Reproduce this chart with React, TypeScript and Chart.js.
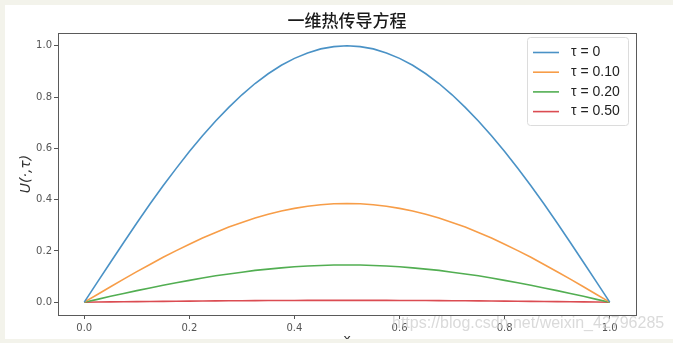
import React, { useEffect, useRef } from "react";
import { Chart, registerables } from "chart.js";

Chart.register(...registerables);

const xValues = [0, 0.025, 0.05, 0.075, 0.1, 0.125, 0.15, 0.175, 0.2, 0.225, 0.25, 0.275, 0.3, 0.325, 0.35, 0.375, 0.4, 0.425, 0.45, 0.475, 0.5, 0.525, 0.55, 0.575, 0.6, 0.625, 0.65, 0.675, 0.7, 0.725, 0.75, 0.775, 0.8, 0.825, 0.85, 0.875, 0.9, 0.925, 0.95, 0.975, 1.0];
const tau0 = [0, 0.078, 0.156, 0.233, 0.309, 0.383, 0.454, 0.522, 0.588, 0.649, 0.707, 0.760, 0.809, 0.853, 0.891, 0.924, 0.951, 0.972, 0.988, 0.997, 1.0, 0.997, 0.988, 0.972, 0.951, 0.924, 0.891, 0.853, 0.809, 0.760, 0.707, 0.649, 0.588, 0.522, 0.454, 0.383, 0.309, 0.233, 0.156, 0.078, 0];
const tau010 = [0, 0.030, 0.060, 0.090, 0.119, 0.147, 0.175, 0.201, 0.226, 0.250, 0.272, 0.293, 0.311, 0.328, 0.343, 0.356, 0.366, 0.374, 0.380, 0.384, 0.385, 0.384, 0.380, 0.374, 0.366, 0.356, 0.343, 0.328, 0.311, 0.293, 0.272, 0.250, 0.226, 0.201, 0.175, 0.147, 0.119, 0.090, 0.060, 0.030, 0];
const tau020 = [0, 0.011, 0.023, 0.034, 0.045, 0.055, 0.066, 0.076, 0.085, 0.094, 0.103, 0.110, 0.117, 0.124, 0.129, 0.134, 0.138, 0.141, 0.143, 0.145, 0.145, 0.145, 0.143, 0.141, 0.138, 0.134, 0.129, 0.124, 0.117, 0.110, 0.103, 0.094, 0.085, 0.076, 0.066, 0.055, 0.045, 0.034, 0.023, 0.011, 0];
const tau050 = [0, 0.0006, 0.0011, 0.0017, 0.0022, 0.0028, 0.0033, 0.0038, 0.0042, 0.0047, 0.0051, 0.0055, 0.0058, 0.0061, 0.0064, 0.0067, 0.0068, 0.0070, 0.0071, 0.0072, 0.0072, 0.0072, 0.0071, 0.0070, 0.0068, 0.0067, 0.0064, 0.0061, 0.0058, 0.0055, 0.0051, 0.0047, 0.0042, 0.0038, 0.0033, 0.0028, 0.0022, 0.0017, 0.0011, 0.0006, 0];
const seriesLabels = ["τ = 0", "τ = 0.10", "τ = 0.20", "τ = 0.50"];
const seriesColors = ["#4a92c6", "#f79d48", "#52ae52", "#db4c52"];
const xTicks = [0, 0.2, 0.4, 0.6, 0.8, 1.0];
const yTicks = [0, 0.2, 0.4, 0.6, 0.8, 1.0];
const titleText = "一维热传导方程";
const xLabel = "x";
const yLabel = "U(·,τ)";
const watermark = "https://blog.csdn.net/weixin_42796285";

const W = 673;
const H = 343;
const CREAM = "#f3f3eb";

const decor = {
  id: "decor",
  beforeDraw(chart: any) {
    const ctx = chart.ctx;
    ctx.save();
    ctx.fillStyle = CREAM;
    ctx.fillRect(0, 0, W, H);
    ctx.fillStyle = "#ffffff";
    ctx.fillRect(5, 5, W - 5, 334);
    ctx.restore();
  },
  afterDraw(chart: any) {
    const ctx = chart.ctx;
    const a = chart.chartArea;
    ctx.save();
    // frame
    ctx.strokeStyle = "#5a5a5a";
    ctx.lineWidth = 1;
    ctx.strokeRect(Math.round(a.left) + 0.5, Math.round(a.top) + 0.5, Math.round(a.right - a.left), Math.round(a.bottom - a.top));
    // title
    ctx.fillStyle = "#1a1a1a";
    ctx.font = "500 17px 'Noto Sans CJK SC'";
    ctx.textAlign = "center";
    ctx.textBaseline = "middle";
    ctx.fillText(titleText, (a.left + a.right) / 2, 21);
    // y label
    ctx.save();
    ctx.translate(26, (a.top + a.bottom) / 2);
    ctx.rotate(-Math.PI / 2);
    ctx.font = "italic 14px 'DejaVu Sans'";
    ctx.fillStyle = "#333";
    ctx.fillText(yLabel, 0, 0);
    ctx.restore();
    // x label
    ctx.font = "13px 'DejaVu Sans'";
    ctx.fillStyle = "#333";
    ctx.textBaseline = "top";
    ctx.fillText(xLabel, (a.left + a.right) / 2, 333);
    // watermark
    ctx.font = "16px 'Liberation Sans'";
    ctx.fillStyle = "rgba(205,205,205,0.75)";
    ctx.textAlign = "left";
    ctx.textBaseline = "middle";
    ctx.fillText(watermark, 392, 324);
    // legend
    const lx = 527, ly = 37, lw = 101, lh = 88;
    ctx.fillStyle = "rgba(255,255,255,0.85)";
    ctx.strokeStyle = "#dcdcdc";
    ctx.lineWidth = 1;
    ctx.beginPath();
    (ctx as any).roundRect(lx + 0.5, ly + 0.5, lw, lh, 3);
    ctx.fill();
    ctx.stroke();
    ctx.font = "14px 'Liberation Sans'";
    ctx.textBaseline = "middle";
    chart.data.datasets.forEach((ds: any, i: number) => {
      const y = 52.5 + i * 19.7;
      ctx.strokeStyle = ds.borderColor;
      ctx.lineWidth = 1.6;
      ctx.beginPath();
      ctx.moveTo(533, y);
      ctx.lineTo(559, y);
      ctx.stroke();
      ctx.fillStyle = "#222";
      ctx.fillText(ds.label, 571, y);
    });
    // bottom cream strip
    ctx.fillStyle = CREAM;
    ctx.fillRect(0, 339, W, H - 339);
    ctx.restore();
  },
};

export default function App() {
  const ref = useRef<HTMLCanvasElement>(null);
  useEffect(() => {
    document.body.style.margin = "0";
    const series = [tau0, tau010, tau020, tau050];
    const chart = new Chart(ref.current!, {
      type: "line",
      data: {
        datasets: series.map((s, i) => ({
          label: seriesLabels[i],
          data: xValues.map((x, j) => ({ x, y: s[j] })),
          borderColor: seriesColors[i],
          backgroundColor: seriesColors[i],
          borderWidth: 1.6,
          pointRadius: 0,
          tension: 0,
          fill: false,
        })),
      },
      options: {
        animation: false,
        responsive: false,
        maintainAspectRatio: false,
        layout: { padding: { left: 0, top: 33, right: 37, bottom: 0 } },
        plugins: { legend: { display: false }, title: { display: false }, tooltip: { enabled: false } },
        scales: {
          x: {
            type: "linear",
            min: -0.05,
            max: 1.05,
            afterBuildTicks: (s: any) => { s.ticks = xTicks.map((v) => ({ value: v })); },
            afterFit: (s: any) => { s.height = 28; },
            grid: { drawOnChartArea: false, drawTicks: true, tickLength: 4, color: "#555" },
            border: { display: false },
            ticks: { color: "#555", font: { family: "DejaVu Sans", size: 10 }, padding: 3, maxRotation: 0, callback: (v: any) => Number(v).toFixed(1) },
          },
          y: {
            type: "linear",
            min: -0.05,
            max: 1.05,
            afterBuildTicks: (s: any) => { s.ticks = yTicks.map((v) => ({ value: v })); },
            afterFit: (s: any) => { s.width = 58; },
            grid: { drawOnChartArea: false, drawTicks: true, tickLength: 4, color: "#555" },
            border: { display: false },
            ticks: { color: "#555", font: { family: "DejaVu Sans", size: 10 }, padding: 2, callback: (v: any) => Number(v).toFixed(1) },
          },
        },
      },
      plugins: [decor],
    });
    return () => chart.destroy();
  }, []);
  return (
    <div style={{ width: W, height: H }}>
      <canvas ref={ref} width={W} height={H} style={{ width: W, height: H, display: "block", filter: "blur(0.4px)" }} />
    </div>
  );
}
